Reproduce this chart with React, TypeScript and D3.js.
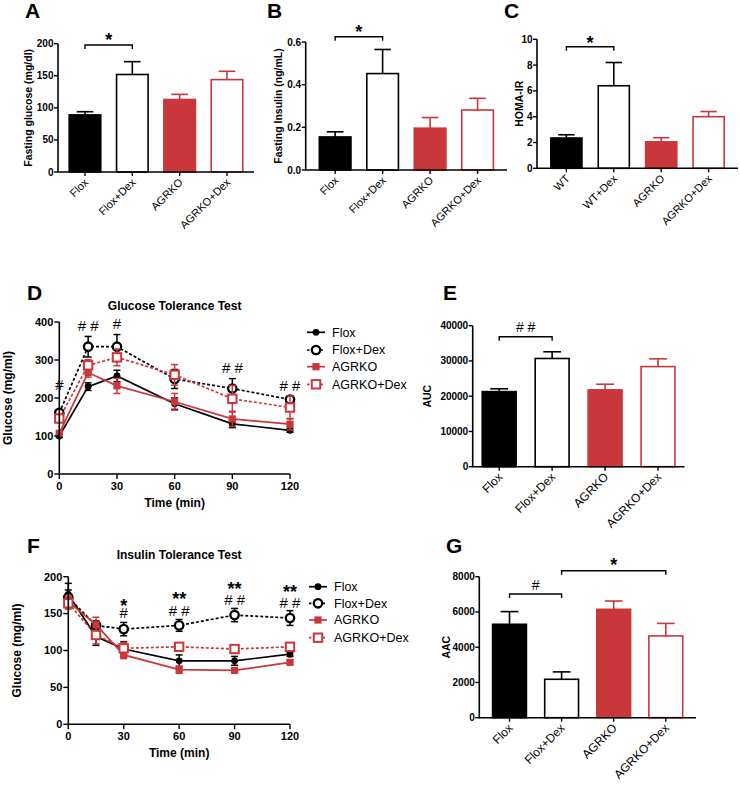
import React from "react";
import * as d3 from "d3";

const RED = "#c9373b";
const FONT = "'Liberation Sans', Arial, Helvetica, sans-serif";

// ---------- Data ----------
const groupsFlox = ["Flox", "Flox+Dex", "AGRKO", "AGRKO+Dex"];
const groupsWT = ["WT", "WT+Dex", "AGRKO", "AGRKO+Dex"];
const glucoseMean = [89, 152, 113, 144];
const glucoseErr = [5, 20, 8, 13];
const insulinMean = [0.155, 0.452, 0.196, 0.281];
const insulinErr = [0.024, 0.113, 0.05, 0.055];
const homaMean = [2.35, 6.4, 2.05, 4.0];
const homaErr = [0.25, 1.8, 0.32, 0.4];
const aucMean = [21300, 30700, 21800, 28400];
const aucErr = [800, 1900, 1600, 2200];
const aacMean = [5300, 2180, 6150, 4640];
const aacErr = [720, 420, 470, 710];

const timePoints = [0, 15, 30, 60, 90, 120];
const seriesNames = ["Flox", "Flox+Dex", "AGRKO", "AGRKO+Dex"];
const gttFlox = [100, 230, 258, 185, 132, 115];
const gttFloxErr = [4, 10, 15, 15, 10, 5];
const gttFloxDex = [161, 335, 335, 250, 225, 196];
const gttFloxDexErr = [8, 27, 32, 25, 26, 10];
const gttAgrko = [107, 267, 232, 190, 145, 131];
const gttAgrkoErr = [5, 12, 20, 22, 20, 15];
const gttAgrkoDex = [146, 286, 307, 261, 198, 175];
const gttAgrkoDexErr = [8, 15, 22, 27, 35, 30];

const ittFlox = [176, 119, 102, 86, 86, 95];
const ittFloxErr = [15, 12, 10, 8, 6, 3];
const ittFloxDex = [172, 134, 129, 134, 148, 144];
const ittFloxDexErr = [10, 6, 9, 8, 9, 10];
const ittAgrko = [166, 135, 94, 74, 73, 84];
const ittAgrkoErr = [8, 10, 5, 5, 3, 3];
const ittAgrkoDex = [164, 121, 103, 105, 102, 105];
const ittAgrkoDexErr = [8, 12, 8, 3, 3, 3];

// ---------- Styles per group ----------
const groupStyle = [
  { color: "#000", filled: true, dashed: false, shape: "circle" },
  { color: "#000", filled: false, dashed: true, shape: "circle" },
  { color: RED, filled: true, dashed: false, shape: "square" },
  { color: RED, filled: false, dashed: true, shape: "square" },
];

type Bracket = { i: number; j: number; y: number; text: string; ty: number; size: number; bold: boolean };

function PanelLabel({ x, y, t }: { x: number; y: number; t: string }) {
  return (
    <text x={x} y={y} fontFamily={FONT} fontWeight="bold" fontSize={21}>
      {t}
    </text>
  );
}

function BarPanel(props: {
  cats: string[]; mean: number[]; err: number[];
  x0: number; x1: number; pad: number; bw: number;
  yb: number; yt: number; ymax: number; step: number; fmt: (v: number) => string;
  title: string; titleX: number; tickFont: number; catFont: number; brackets: Bracket[];
}) {
  const { cats, mean, err, x0, x1, pad, bw, yb, yt, ymax, step, fmt, title, titleX, tickFont, catFont, brackets } = props;
  const x = d3.scalePoint<string>().domain(cats).range([x0, x1]).padding(pad);
  const y = d3.scaleLinear().domain([0, ymax]).range([yb, yt]);
  const w = x.step() * bw;
  const ticks = d3.range(0, ymax + step / 2, step);
  return (
    <g fontFamily={FONT}>
      {cats.map((c, i) => {
        const s = groupStyle[i];
        const cx = x(c)!;
        const top = y(mean[i]);
        const et = y(mean[i] + err[i]);
        return (
          <g key={c}>
            <line x1={cx} x2={cx} y1={top} y2={et} stroke={s.color} strokeWidth={1.6} />
            <line x1={cx - w * 0.25} x2={cx + w * 0.25} y1={et} y2={et} stroke={s.color} strokeWidth={1.6} />
            <rect x={cx - w / 2 + 0.8} y={top} width={w - 1.6} height={yb - top}
              fill={s.filled ? s.color : "#fff"} stroke={s.color} strokeWidth={1.6} />
          </g>
        );
      })}
      <line x1={x0} x2={x0} y1={yb} y2={yt} stroke="#000" strokeWidth={1.6} />
      <line x1={x0 - 0.8} x2={x1} y1={yb} y2={yb} stroke="#000" strokeWidth={1.6} />
      {ticks.map((t) => (
        <g key={t}>
          <line x1={x0 - 4} x2={x0} y1={y(t)} y2={y(t)} stroke="#000" strokeWidth={1.4} />
          <text x={x0 - 4.5} y={y(t)} dy="0.35em" textAnchor="end" fontSize={tickFont} fontWeight="bold">{fmt(t)}</text>
        </g>
      ))}
      {cats.map((c) => (
        <g key={c}>
          <line x1={x(c)!} x2={x(c)!} y1={yb} y2={yb + 4} stroke="#000" strokeWidth={1.4} />
          <text transform={`translate(${x(c)! + 4},${yb + 11}) rotate(-45)`} textAnchor="end" fontSize={catFont}>{c}</text>
        </g>
      ))}
      <text transform={`translate(${titleX},${(yb + yt) / 2}) rotate(-90)`} textAnchor="middle" fontSize={10.5} fontWeight="bold">{title}</text>
      {brackets.map((b, k) => {
        const a = x(cats[b.i])!;
        const e = x(cats[b.j])!;
        return (
          <g key={k}>
            <path d={`M${a},${b.y + 4}V${b.y}H${e}V${b.y + 4}`} fill="none" stroke="#000" strokeWidth={1.4} />
            <text x={(a + e) / 2} y={b.ty} textAnchor="middle" fontSize={b.size} fontWeight={b.bold ? "bold" : "normal"}>{b.text}</text>
          </g>
        );
      })}
    </g>
  );
}

function Marker({ cx, cy, i }: { cx: number; cy: number; i: number }) {
  const s = groupStyle[i];
  if (s.shape === "circle") {
    return s.filled ? <circle cx={cx} cy={cy} r={3.4} fill={s.color} /> :
      <circle cx={cx} cy={cy} r={4.2} fill="#fff" stroke={s.color} strokeWidth={2.3} />;
  }
  return s.filled ? <rect x={cx - 3.6} y={cy - 3.6} width={7.2} height={7.2} fill={s.color} /> :
    <rect x={cx - 4.2} y={cy - 4.2} width={8.4} height={8.4} fill="#fff" stroke={s.color} strokeWidth={2} />;
}

type Annot = { t: number; lines: { text: string; bold: boolean; size: number; dy: number }[]; y: number };

function LinePanel(props: {
  data: number[][]; errs: number[][];
  x0: number; x1: number; yb: number; yt: number; ymax: number; step: number;
  title: string; titleY: number; xTitleY: number; yTitleX: number;
  legX: number; legY: number[]; annots: Annot[];
}) {
  const { data, errs, x0, x1, yb, yt, ymax, step, title, titleY, xTitleY, yTitleX, legX, legY, annots } = props;
  const x = d3.scaleLinear().domain([0, 120]).range([x0, x1]);
  const y = d3.scaleLinear().domain([0, ymax]).range([yb, yt]);
  const line = d3.line<number>().x((_, k) => x(timePoints[k])).y((d) => y(d));
  const yt2 = d3.range(0, ymax + step / 2, step);
  const xt = [0, 30, 60, 90, 120];
  return (
    <g fontFamily={FONT}>
      {data.map((vals, i) => {
        const s = groupStyle[i];
        return (
          <g key={i}>
            <path d={line(vals)!} fill="none" stroke={s.color} strokeWidth={1.7} strokeDasharray={s.dashed ? "3,2" : undefined} />
            {vals.map((v, k) => {
              const cx = x(timePoints[k]);
              const lo = y(v - errs[i][k]);
              const hi = y(v + errs[i][k]);
              return (
                <g key={k}>
                  <line x1={cx} x2={cx} y1={lo} y2={hi} stroke={s.color} strokeWidth={1.5} />
                  <line x1={cx - 3.5} x2={cx + 3.5} y1={lo} y2={lo} stroke={s.color} strokeWidth={1.5} />
                  <line x1={cx - 3.5} x2={cx + 3.5} y1={hi} y2={hi} stroke={s.color} strokeWidth={1.5} />
                </g>
              );
            })}
            {vals.map((v, k) => <Marker key={k} cx={x(timePoints[k])} cy={y(v)} i={i} />)}
          </g>
        );
      })}
      <line x1={x0} x2={x0} y1={yb + 0.8} y2={yt} stroke="#000" strokeWidth={1.6} />
      <line x1={x0} x2={x1} y1={yb} y2={yb} stroke="#000" strokeWidth={1.6} />
      {yt2.map((t) => (
        <g key={t}>
          <line x1={x0 - 5} x2={x0} y1={y(t)} y2={y(t)} stroke="#000" strokeWidth={1.4} />
          <text x={x0 - 6} y={y(t)} dy="0.35em" textAnchor="end" fontSize={11} fontWeight="bold">{t}</text>
        </g>
      ))}
      {xt.map((t) => (
        <g key={t}>
          <line x1={x(t)} x2={x(t)} y1={yb} y2={yb + 5} stroke="#000" strokeWidth={1.4} />
          <text x={x(t)} y={yb + 16} textAnchor="middle" fontSize={11} fontWeight="bold">{t}</text>
        </g>
      ))}
      <text x={(x0 + x1) / 2} y={titleY} textAnchor="middle" fontSize={12} fontWeight="bold">{title}</text>
      <text x={(x0 + x1) / 2} y={xTitleY} textAnchor="middle" fontSize={12} fontWeight="bold">Time (min)</text>
      <text transform={`translate(${yTitleX},${(yb + yt) / 2}) rotate(-90)`} textAnchor="middle" fontSize={12} fontWeight="bold">Glucose (mg/ml)</text>
      {seriesNames.map((n, i) => {
        const s = groupStyle[i];
        return (
          <g key={n}>
            <line x1={legX - 9} x2={legX + 9} y1={legY[i]} y2={legY[i]} stroke={s.color} strokeWidth={1.7} strokeDasharray={s.dashed ? "2.5,2" : undefined} />
            <Marker cx={legX} cy={legY[i]} i={i} />
            <text x={legX + 16} y={legY[i]} dy="0.35em" fontSize={12.5}>{n}</text>
          </g>
        );
      })}
      {annots.map((a, k) => (
        <text key={k} x={x(a.t)} y={a.y} textAnchor="middle">
          {a.lines.map((l, m) => (
            <tspan key={m} x={x(a.t)} dy={l.dy} fontSize={l.size} fontWeight={l.bold ? "bold" : "normal"}>{l.text}</tspan>
          ))}
        </text>
      ))}
    </g>
  );
}

const H = (dy = 0) => ({ text: "# #", bold: false, size: 15, dy });
const H1 = (dy = 0) => ({ text: "#", bold: false, size: 15, dy });
const S1 = { text: "*", bold: true, size: 18, dy: 0 };
const S2 = { text: "**", bold: true, size: 18, dy: 0 };

export default function App() {
  return (
    <svg width={740} height={787} style={{ position: "absolute", left: 0, top: 0, background: "#fff" }}>
      <rect width={740} height={787} fill="#fff" />
      <PanelLabel x={25} y={18} t="A" />
      <PanelLabel x={267} y={18} t="B" />
      <PanelLabel x={504} y={18} t="C" />
      <PanelLabel x={27} y={300} t="D" />
      <PanelLabel x={443} y={300} t="E" />
      <PanelLabel x={27} y={553} t="F" />
      <PanelLabel x={446} y={553} t="G" />

      <BarPanel cats={groupsFlox} mean={glucoseMean} err={glucoseErr}
        x0={58} x1={254} pad={0.57} bw={0.7} yb={172} yt={43.7} ymax={200} step={50} fmt={(v) => String(v)}
        title="Fasting glucose (mg/dl)" titleX={32} tickFont={10} catFont={11}
        brackets={[{ i: 0, j: 1, y: 45, text: "*", ty: 46, size: 18, bold: true }]} />
      <BarPanel cats={groupsFlox} mean={insulinMean} err={insulinErr}
        x0={305.7} x1={507} pad={0.62} bw={0.7} yb={170} yt={42} ymax={0.6} step={0.2} fmt={(v) => v.toFixed(1)}
        title="Fasting Insulin (ng/mL)" titleX={282} tickFont={10} catFont={11}
        brackets={[{ i: 0, j: 1, y: 36.7, text: "*", ty: 37.5, size: 18, bold: true }]} />
      <BarPanel cats={groupsWT} mean={homaMean} err={homaErr}
        x0={537} x1={738} pad={0.62} bw={0.69} yb={168.3} yt={39.3} ymax={10} step={2} fmt={(v) => String(v)}
        title="HOMA-IR" titleX={523} tickFont={10} catFont={11}
        brackets={[{ i: 0, j: 1, y: 46.7, text: "*", ty: 48.5, size: 18, bold: true }]} />
      <BarPanel cats={groupsFlox} mean={aucMean} err={aucErr}
        x0={472.7} x1={684.5} pad={0.5} bw={0.67} yb={466.7} yt={325.7} ymax={40000} step={10000} fmt={(v) => String(v)}
        title="AUC" titleX={431} tickFont={10} catFont={12}
        brackets={[{ i: 0, j: 1, y: 336.7, text: "# #", ty: 331.5, size: 14, bold: false }]} />
      <BarPanel cats={groupsFlox} mean={aacMean} err={aacErr}
        x0={479.3} x1={696} pad={0.58} bw={0.68} yb={717.7} yt={576.7} ymax={8000} step={2000} fmt={(v) => String(v)}
        title="AAC" titleX={450} tickFont={10} catFont={12}
        brackets={[
          { i: 0, j: 1, y: 594, text: "#", ty: 590, size: 14, bold: false },
          { i: 1, j: 3, y: 570.7, text: "*", ty: 571, size: 18, bold: true },
        ]} />

      <LinePanel data={[gttFlox, gttFloxDex, gttAgrko, gttAgrkoDex]}
        errs={[gttFloxErr, gttFloxDexErr, gttAgrkoErr, gttAgrkoDexErr]}
        x0={59.3} x1={290} yb={474} yt={322} ymax={400} step={100}
        title="Glucose Tolerance Test" titleY={310} xTitleY={507} yTitleX={12}
        legX={316} legY={[332.3, 350, 366.7, 384.3]}
        annots={[
          { t: 0, y: 390, lines: [H1()] },
          { t: 15, y: 331, lines: [H()] },
          { t: 30, y: 329, lines: [H1()] },
          { t: 90, y: 373, lines: [H()] },
          { t: 120, y: 391, lines: [H()] },
        ]} />
      <LinePanel data={[ittFlox, ittFloxDex, ittAgrko, ittAgrkoDex]}
        errs={[ittFloxErr, ittFloxDexErr, ittAgrkoErr, ittAgrkoDexErr]}
        x0={68.3} x1={290} yb={724.3} yt={576.7} ymax={200} step={50}
        title="Insulin Tolerance Test" titleY={558.5} xTitleY={757} yTitleX={21}
        legX={318} legY={[586.7, 603.3, 620, 637.7]}
        annots={[
          { t: 30, y: 612, lines: [S1, H1(6)] },
          { t: 60, y: 605, lines: [S2, H(11)] },
          { t: 90, y: 594.5, lines: [S2, H(10)] },
          { t: 120, y: 598, lines: [S2, H(9.5)] },
        ]} />
    </svg>
  );
}
